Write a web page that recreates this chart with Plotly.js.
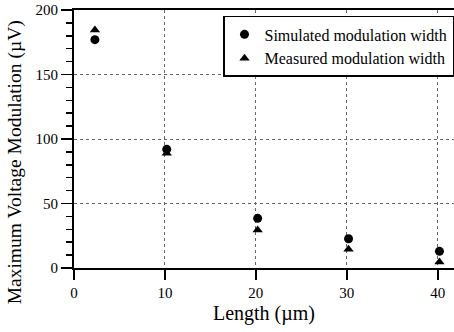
<!DOCTYPE html>
<html>
<head>
<meta charset="utf-8">
<script src="https://cdn.plot.ly/plotly-3.0.1.min.js"></script>
<style>html,body{margin:0;padding:0;background:#fff;}#chart{width:454px;height:332px;}</style>
</head>
<body>
<div id="chart"></div>
<script>
// Data
const lengths = [2.3, 10.2, 20.2, 30.2, 40.2];
const simulatedWidth = [177, 92, 38.5, 22.7, 12.9];
const measuredWidth = [184.5, 89, 29.5, 14.5, 4.7];
const seriesNames = ["Simulated modulation width", "Measured modulation width"];
const xTicks = [0, 10, 20, 30, 40];
const yTicks = [0, 50, 100, 150, 200];
const xTitle = "Length (µm)";
const yTitle = "Maximum Voltage Modulation (µV)";

const serif = "Liberation Serif, Times New Roman, serif";

const traces = [
  {
    x: lengths, y: simulatedWidth, name: seriesNames[0],
    type: "scatter", mode: "markers",
    marker: {symbol: "circle", size: 9, color: "#000"},
    cliponaxis: false
  },
  {
    x: lengths, y: measuredWidth, name: seriesNames[1],
    type: "scatter", mode: "markers",
    marker: {symbol: "triangle-up", size: 9, color: "#000"},
    cliponaxis: false
  }
];

const layout = {
  width: 454, height: 332,
  margin: {l: 74, r: 0, t: 10, b: 64},
  paper_bgcolor: "#fff", plot_bgcolor: "#fff",
  font: {family: serif, color: "#000", size: 15},
  showlegend: true,
  legend: {
    x: 1, xanchor: "right", y: 0.977, yanchor: "top",
    bgcolor: "#fff", bordercolor: "#000", borderwidth: 1.5,
    font: {family: serif, size: 16, color: "#000"},
    tracegroupgap: 0, itemwidth: 30
  },
  xaxis: {
    range: [0, 41.8], tickvals: xTicks, ticktext: xTicks.map(String),
    ticks: "outside", ticklen: 10, tickwidth: 2, tickcolor: "#000",
    showline: true, linewidth: 2, linecolor: "#000", mirror: true,
    showgrid: true, gridcolor: "#666", griddash: "dot", gridwidth: 1,
    zeroline: false,
    tickfont: {family: serif, size: 15},
    title: {text: xTitle, font: {family: serif, size: 20}, standoff: 6}
  },
  yaxis: {
    range: [0, 200], tickvals: yTicks, ticktext: yTicks.map(String),
    ticks: "outside", ticklen: 11, tickwidth: 1.5, tickcolor: "#000",
    minor: {dtick: 10, ticks: "outside", ticklen: 6, tickwidth: 1.5, tickcolor: "#000", showgrid: false},
    showline: true, linewidth: 2, linecolor: "#000",
    showgrid: true, gridcolor: "#666", griddash: "dot", gridwidth: 1,
    zeroline: false,
    tickfont: {family: serif, size: 15},
    title: {text: ""}
  },
  annotations: [{
    text: yTitle, textangle: -90, showarrow: false,
    xref: "paper", yref: "paper", x: -0.155, y: 0.41,
    xanchor: "center", yanchor: "middle",
    font: {family: serif, size: 19.5, color: "#000"}
  }]
};

Plotly.newPlot("chart", traces, layout, {displayModeBar: false, staticPlot: true});
</script>
</body>
</html>
